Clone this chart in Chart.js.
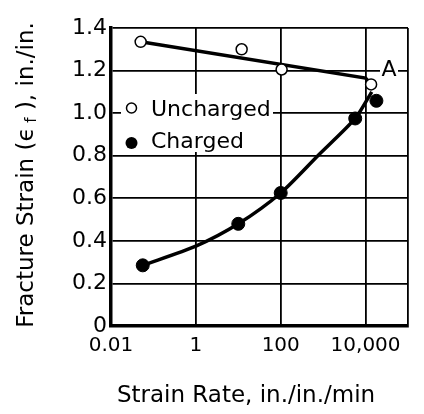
<!DOCTYPE html>
<html>
<head>
<meta charset="utf-8">
<script src="https://cdn.jsdelivr.net/npm/chart.js@4.4.1/dist/chart.umd.min.js"></script>
<style>
  html, body { margin: 0; padding: 0; background: #fff; }
  #wrap { width: 424px; height: 414px; }
</style>
</head>
<body>
<div id="wrap"><canvas id="c" width="424" height="414"></canvas></div>
<script>
// measured points (strain rate, fracture strain)
const unchargedX = [0.05, 12, 105, 13500];
const unchargedY = [1.335, 1.30, 1.205, 1.135];
const chargedX = [0.056, 10, 100, 5700, 18000];
const chargedY = [0.285, 0.48, 0.625, 0.975, 1.058];

// hand-drawn trend lines
const unchargedFitX = [0.05, 10000, 13500];
const unchargedFitY = [1.335, 1.165, 1.135];
const chargedFitX = [0.056, 1, 10, 100, 750, 5700, 14000];
const chargedFitY = [0.285, 0.375, 0.48, 0.625, 0.8, 0.975, 1.1];

const xTicks = [0.01, 1, 100, 10000, 100000];
const xTickLabels = ['0.01', '1', '100', '10,000', ''];
const yTicks = [0, 0.2, 0.4, 0.6, 0.8, 1.0, 1.2, 1.4];
const yTickLabels = ['0', '0.2', '0.4', '0.6', '0.8', '1.0', '1.2', '1.4'];

const legendLabels = ['Uncharged', 'Charged'];
const xTitle = 'Strain Rate, in./in./min';
const FONT = '"DejaVu Sans", sans-serif';

const pts = (xs, ys) => xs.map((x, i) => ({ x: x, y: ys[i] }));

const decor = {
  id: 'decor',
  afterDatasetsDraw(chart) {
    const ctx = chart.ctx;
    ctx.save();
    // legend box inside plot
    ctx.fillStyle = '#fff';
    ctx.fillRect(121, 94, 152, 58);
    ctx.strokeStyle = '#000';
    ctx.lineWidth = 1.5;
    ctx.beginPath();
    ctx.arc(131.5, 108, 5, 0, Math.PI * 2);
    ctx.fill();
    ctx.stroke();
    ctx.fillStyle = '#000';
    ctx.beginPath();
    ctx.arc(131.5, 143, 6, 0, Math.PI * 2);
    ctx.fill();
    ctx.font = '22px ' + FONT;
    ctx.textBaseline = 'middle';
    ctx.textAlign = 'left';
    ctx.fillText(legendLabels[0], 151, 110);
    ctx.fillText(legendLabels[1], 151, 142);

    // "A" marker
    ctx.fillStyle = '#fff';
    ctx.fillRect(380, 58, 18, 24);
    ctx.fillStyle = '#000';
    ctx.textAlign = 'center';
    ctx.fillText('A', 389, 70);

    // x title
    ctx.font = '23px ' + FONT;
    ctx.fillText(xTitle, 246, 396);

    // y title with subscript
    ctx.translate(27, 175);
    ctx.rotate(-Math.PI / 2);
    const parts = [
      ['Fracture Strain (\u03F5', 23, 0],
      [' f', 15, 5],
      [' ), in./in.', 23, 0]
    ];
    let total = 0;
    parts.forEach(p => { ctx.font = p[1] + 'px ' + FONT; total += ctx.measureText(p[0]).width; });
    let x = -total / 2;
    ctx.textAlign = 'left';
    parts.forEach(p => {
      ctx.font = p[1] + 'px ' + FONT;
      ctx.fillText(p[0], x, p[2]);
      x += ctx.measureText(p[0]).width;
    });
    ctx.restore();
  }
};

new Chart(document.getElementById('c'), {
  type: 'scatter',
  data: {
    datasets: [
      {
        label: legendLabels[0],
        data: pts(unchargedX, unchargedY),
        pointRadius: 5.5,
        pointBackgroundColor: '#fff',
        pointBorderColor: '#000',
        pointBorderWidth: 1.5,
        order: 0
      },
      {
        label: legendLabels[1],
        data: pts(chargedX, chargedY),
        pointRadius: 6.5,
        pointBackgroundColor: '#000',
        pointBorderColor: '#000',
        order: 0
      },
      {
        type: 'line',
        data: pts(unchargedFitX, unchargedFitY),
        borderColor: '#000',
        borderWidth: 3.5,
        pointRadius: 0,
        order: 1
      },
      {
        type: 'line',
        data: pts(chargedFitX, chargedFitY),
        borderColor: '#000',
        borderWidth: 3.5,
        pointRadius: 0,
        tension: 0.25,
        order: 1
      }
    ]
  },
  options: {
    responsive: false,
    animation: false,
    layout: { padding: { top: 28, right: 16, left: 0, bottom: 0 } },
    plugins: {
      legend: { display: false },
      tooltip: { enabled: false }
    },
    scales: {
      x: {
        type: 'logarithmic',
        min: 0.01,
        max: 100000,
        afterBuildTicks: (s) => { s.ticks = xTicks.map(v => ({ value: v })); },
        afterFit: (s) => { s.height = 88; },
        ticks: {
          color: '#000',
          font: { family: FONT, size: 20 },
          padding: 8,
          maxRotation: 0,
          autoSkip: false,
          callback: (v, i) => xTickLabels[i]
        },
        grid: { color: '#000', lineWidth: 1.8, drawTicks: false },
        border: { color: '#000', width: 3.5 }
      },
      y: {
        min: 0,
        max: 1.4,
        afterBuildTicks: (s) => { s.ticks = yTicks.map(v => ({ value: v })); },
        afterFit: (s) => { s.width = 111; },
        ticks: {
          color: '#000',
          font: { family: FONT, size: 22 },
          padding: 4,
          autoSkip: false,
          callback: (v, i) => yTickLabels[i]
        },
        grid: { color: '#000', lineWidth: 1.8, drawTicks: false },
        border: { color: '#000', width: 3.5 }
      }
    }
  },
  plugins: [decor]
});
</script>
</body>
</html>
